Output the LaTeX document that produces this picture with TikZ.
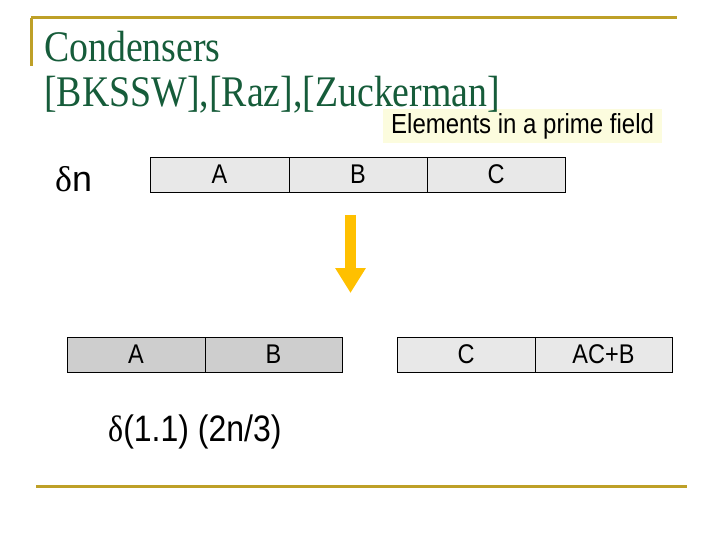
\documentclass[tikz,border=0pt]{standalone}
\usepackage{fontspec}
\usepackage{graphicx}
\setmainfont{Liberation Serif}
\newfontfamily\arial{Liberation Sans}
\usetikzlibrary{arrows.meta}
\definecolor{gold}{RGB}{190,160,40}
\definecolor{titlegreen}{RGB}{22,92,58}
\definecolor{notebg}{RGB}{252,252,222}
\definecolor{arrowyellow}{RGB}{255,192,0}
\definecolor{lightcell}{RGB}{232,232,232}
\definecolor{darkcell}{RGB}{206,206,206}
\newcommand{\tallA}[1]{\scalebox{1}[1.15]{#1}}
\newcommand{\titleS}[1]{\scalebox{0.97}[1.12]{#1}}
\tikzset{
  cell/.style={draw=black, line width=0.8pt, inner sep=0pt, minimum height=35pt,
    font=\arial\fontsize{23.5}{26}\selectfont},
  lightbox/.style={cell, fill=lightcell},
  darkbox/.style={cell, fill=darkcell},
  rule/.style={draw=gold, line width=3pt},
  titletext/.style={anchor=base west, inner sep=0pt, text=titlegreen,
    font=\fontsize{39}{44}\selectfont},
  label/.style={anchor=base west, inner sep=0pt, font=\arial\fontsize{32}{36}\selectfont}
}
\begin{document}
\begin{tikzpicture}[x=1pt,y=-1pt]
\useasboundingbox (0,0) rectangle (720,540);
% frame rules
\coordinate (tl) at (31,18);
\coordinate (tr) at (677,18);
\coordinate (lb) at (31,66);
\coordinate (bl) at (36,486);
\coordinate (br) at (687,486);
\draw[rule] (tl) -- (tr);
\draw[rule] (tl) -- (lb);
\draw[rule] (bl) -- (br);
% note box
\node[fill=notebg, minimum width=279pt, minimum height=34pt, inner sep=0pt] (notebox) at (522.5,126) {};
\node[anchor=base west, inner sep=0pt, font=\arial\fontsize{24}{26}\selectfont] (note) at (391,134) {\tallA{Elements in a prime field}};
% title
\node[titletext] (t1) at (44,62) {\titleS{Condensers}};
\node[titletext] (t2) at (44,107) {\titleS{[BKSSW],[Raz],[Zuckerman]}};
% top bar
\node[label] (dn) at (55,192) {\scalebox{1.12}[1.12]{{\rmfamily δ}n}};
\node[lightbox, minimum width=139pt] (ta) at (219.5,174.5) {\tallA{A}};
\node[lightbox, minimum width=138pt] (tb) at (358,174.5) {\tallA{B}};
\node[lightbox, minimum width=138pt] (tc) at (496,174.5) {\tallA{C}};
% arrow
\coordinate (as) at (350.5,215);
\coordinate (ae) at (350.5,293);
\draw[arrowyellow, line width=11pt, -{Triangle[width=29pt,length=25pt]}] (as) -- (ae);
% bottom bars
\node[darkbox, minimum width=138pt] (ba) at (136,354.5) {\tallA{A}};
\node[darkbox, minimum width=137pt] (bb) at (273.5,354.5) {\tallA{B}};
\node[lightbox, minimum width=138pt] (bc) at (466,354.5) {\tallA{C}};
\node[lightbox, minimum width=137pt] (bd) at (603.5,354.5) {\tallA{AC+B}};
\node[label] (formula) at (108,441) {\tallA{{\rmfamily δ}(1.1) (2n/3)}};
\end{tikzpicture}
\end{document}
